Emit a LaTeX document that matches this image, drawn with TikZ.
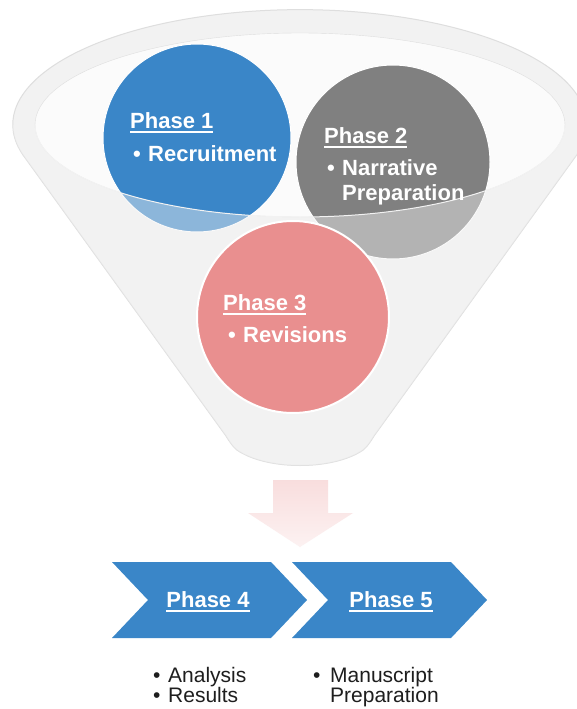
\documentclass[tikz,border=0pt]{standalone}
\usepackage{fontspec}
\setmainfont{Liberation Sans}

\definecolor{phaseblue}{RGB}{58,134,200}
\definecolor{phasegray}{RGB}{128,128,128}
\definecolor{phasepink}{RGB}{233,143,143}
\definecolor{funnelfill}{RGB}{242,242,242}
\definecolor{funneledge}{RGB}{222,222,222}
\definecolor{rimfill}{RGB}{251,251,251}
\definecolor{notegray}{RGB}{30,30,30}

\newcommand{\bul}{\makebox[15pt][l]{\textbullet}}
\newsavebox{\phasebox}
\newcommand{\phaseul}[1]{\sbox{\phasebox}{#1}\rlap{\rule[-4.5pt]{\wd\phasebox}{1.6pt}}\usebox{\phasebox}}

\tikzset{
  phasecircle/.style={circle, minimum size=#1, inner sep=0pt, draw=white, line width=1pt},
  circletext/.style={anchor=base west, inner sep=0pt, text=white, font=\fontsize{22}{25}\selectfont\bfseries},
  chevtext/.style={anchor=base, inner sep=0pt, text=white, font=\fontsize{22}{25}\selectfont\bfseries},
  notetext/.style={anchor=base west, inner sep=0pt, text=notegray, font=\fontsize{21}{21}\selectfont},
  chevron/.style={fill=phaseblue}
}

\begin{document}
\begin{tikzpicture}[x=1pt,y=-1pt]
\useasboundingbox[fill=white] (0,0) rectangle (577,709);
%\draw[step=50,gray,very thin] (0,0) grid (577,709); %background grid

% funnel
\filldraw[fill=funnelfill, draw=funneledge, line width=1pt] (23,155) arc[start angle=164.7, end angle=375.3, x radius=287, y radius=115]
  -- (374,436) .. controls (368,446) and (364,450) .. (360,452)
  .. controls (330,470) and (270,470) .. (240,452)
  .. controls (236,450) and (232,446) .. (226,436) -- cycle;
\filldraw[fill=rimfill, draw=funneledge] (300,125) ellipse[x radius=265, y radius=92];

% phases 1 and 2 inside the funnel
\node[phasecircle=188pt, fill=phaseblue] (c1) at (197,138) {};
\node[phasecircle=194pt, fill=phasegray] (c2) at (393,162) {};

% front wall of the funnel
\begin{scope}
\clip (0,125) rectangle (600,480);
\fill[funnelfill, opacity=0.45, even odd rule] (23,155) arc[start angle=164.7, end angle=375.3, x radius=287, y radius=115]
  -- (374,436) .. controls (368,446) and (364,450) .. (360,452)
  .. controls (330,470) and (270,470) .. (240,452)
  .. controls (236,450) and (232,446) .. (226,436) -- cycle
  (300,125) ellipse[x radius=265, y radius=92];
\draw[white!60!funneledge, line width=1pt] (300,125) ellipse[x radius=265, y radius=92];
\end{scope}

\node[phasecircle=192pt, fill=phasepink, line width=2pt] (c3) at (293,317) {};

\node[circletext] (t1) at (130,128) {\phaseul{Phase 1}};
\node[circletext] (t1a) at (133,161) {\bul Recruitment};
\node[circletext] (t2) at (324,143) {\phaseul{Phase 2}};
\node[circletext] (t2a) at (327,175) {\bul Narrative};
\node[circletext] (t2b) at (342,200) {Preparation};
\node[circletext] (t3) at (223,310) {\phaseul{Phase 3}};
\node[circletext] (t3a) at (228,342) {\bul Revisions};

% down arrow
\shade[top color=phasepink!30, bottom color=phasepink!12] (273,480) -- (328,480) -- (328,513) -- (353,513)
  -- (300,547) -- (248,513) -- (273,513) -- cycle;

% phases 4 and 5
\foreach \cx in {112,292}
  \fill[chevron] (\cx,562) -- ++(159,0) -- ++(36,38) -- ++(-36,38) -- ++(-159,0) -- ++(36,-38) -- cycle;
\node[chevtext] (t4) at (208,607) {\phaseul{Phase 4}};
\node[chevtext] (t5) at (391,607) {\phaseul{Phase 5}};

\node[notetext] (n4a) at (153,682) {\bul Analysis};
\node[notetext] (n4b) at (153,702) {\bul Results};
\node[notetext] (n5a) at (313,682) {\makebox[17pt][l]{\textbullet}Manuscript};
\node[notetext] (n5b) at (330,702) {Preparation};
\end{tikzpicture}
\end{document}
